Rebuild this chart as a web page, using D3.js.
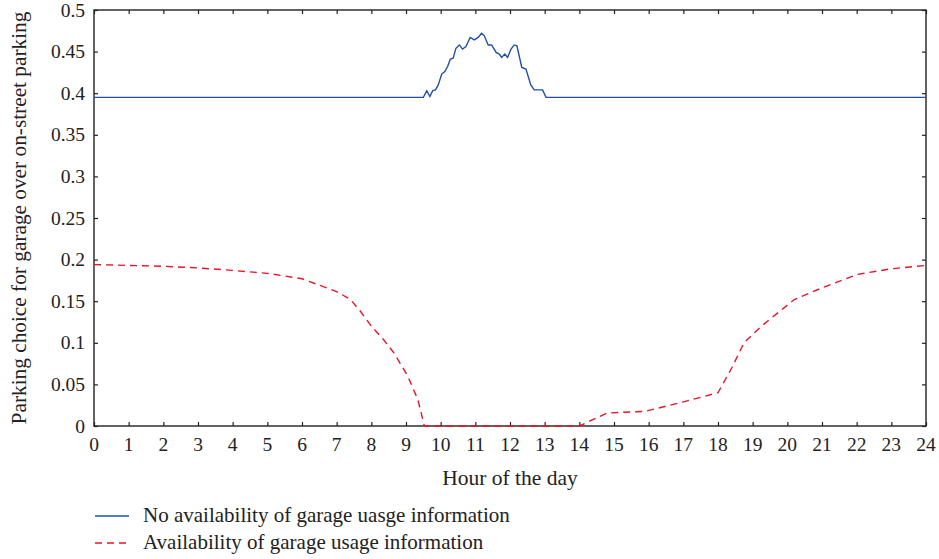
<!DOCTYPE html>
<html>
<head>
<meta charset="utf-8">
<script src="https://cdn.jsdelivr.net/npm/d3@7"></script>
<style>
  body { margin: 0; background: #fff; }
  text { font-family: "Liberation Serif", "DejaVu Serif", serif; fill: #222; }
</style>
</head>
<body>
<div id="chart"></div>
<script>
// hours of the day + the two series
const noInfoHours = [0, 9.5, 9.6, 9.69, 9.77, 9.85, 9.93, 10.03, 10.12, 10.2, 10.28, 10.36, 10.44, 10.54, 10.63, 10.73, 10.85, 10.97, 11.08, 11.18, 11.26, 11.37, 11.47, 11.6, 11.69, 11.76, 11.85, 11.93, 12.03, 12.12, 12.2, 12.34, 12.46, 12.6, 12.7, 12.94, 13.04, 24];
const noInfoValues = [0.395, 0.395, 0.403, 0.396, 0.403, 0.404, 0.41, 0.423, 0.426, 0.432, 0.441, 0.442, 0.454, 0.458, 0.453, 0.456, 0.467, 0.464, 0.467, 0.472, 0.469, 0.458, 0.458, 0.449, 0.447, 0.443, 0.447, 0.443, 0.453, 0.458, 0.457, 0.431, 0.429, 0.41, 0.404, 0.404, 0.395, 0.395];

const infoHours = [0, 1, 2, 3, 4, 5, 6, 7, 7.4, 7.7, 8, 8.35, 8.65, 9.05, 9.34, 9.53, 14, 14.8, 15.9, 17, 18, 18.4, 18.75, 19.25, 20.2, 21, 22, 23, 24];
const infoValues = [0.194, 0.193, 0.192, 0.19, 0.187, 0.1835, 0.177, 0.1615, 0.152, 0.137, 0.12, 0.104, 0.088, 0.06, 0.032, 0, 0, 0.0156, 0.0176, 0.029, 0.04, 0.07, 0.1, 0.12, 0.152, 0.166, 0.182, 0.189, 0.193];

const xTicks = d3.range(0, 25, 1);
const yTicks = [0, 0.05, 0.1, 0.15, 0.2, 0.25, 0.3, 0.35, 0.4, 0.45, 0.5];
const legendLabels = ['No availability of garage uasge information', 'Availability of garage usage information'];
const colors = ['#1f4fa8', '#e8142a'];

const W = 939, H = 559;
const margin = { left: 94, right: 13, top: 10, bottom: 133 };

const svg = d3.select('#chart').append('svg').attr('width', W).attr('height', H);

const x = d3.scaleLinear().domain([0, 24]).range([margin.left, W - margin.right]);
const y = d3.scaleLinear().domain([0, 0.5]).range([H - margin.bottom, margin.top]);

const fmtY = d => d === 0 ? '0' : String(+d.toFixed(2));

// axes - ticks point inward, labels only left & bottom
svg.append('g')
  .attr('transform', `translate(0,${y(0)})`)
  .call(d3.axisTop(x).tickValues(xTicks).tickSize(4).tickFormat(''))
  .call(g => g.select('.domain').remove());
svg.append('g')
  .attr('transform', `translate(0,${y(0.5)})`)
  .call(d3.axisBottom(x).tickValues(xTicks).tickSize(4).tickFormat(''))
  .call(g => g.select('.domain').remove());
svg.append('g')
  .attr('transform', `translate(${x(0)},0)`)
  .call(d3.axisRight(y).tickValues(yTicks).tickSize(4).tickFormat(''))
  .call(g => g.select('.domain').remove());
svg.append('g')
  .attr('transform', `translate(${x(24)},0)`)
  .call(d3.axisLeft(y).tickValues(yTicks).tickSize(4).tickFormat(''))
  .call(g => g.select('.domain').remove());

svg.selectAll('.tick line').attr('stroke', '#222').attr('stroke-width', 1.2);

// tick labels
svg.append('g').selectAll('text').data(xTicks).join('text')
  .attr('x', d => x(d)).attr('y', y(0) + 25)
  .attr('text-anchor', 'middle').attr('font-size', 19.5)
  .text(d => d);
svg.append('g').selectAll('text').data(yTicks).join('text')
  .attr('x', x(0) - 9).attr('y', d => y(d) + 6.5)
  .attr('text-anchor', 'end').attr('font-size', 19.5)
  .text(fmtY);

// frame
svg.append('rect')
  .attr('x', x(0)).attr('y', y(0.5))
  .attr('width', x(24) - x(0)).attr('height', y(0) - y(0.5))
  .attr('fill', 'none').attr('stroke', '#222').attr('stroke-width', 1.4);

// titles
svg.append('text')
  .attr('x', (x(0) + x(24)) / 2).attr('y', 485)
  .attr('text-anchor', 'middle').attr('font-size', 21.5)
  .text('Hour of the day');
svg.append('text')
  .attr('transform', `translate(26,${(y(0) + y(0.5)) / 2}) rotate(-90)`)
  .attr('text-anchor', 'middle').attr('font-size', 21.3)
  .text('Parking choice for garage over on-street parking');

const line = d3.line().x(d => x(d[0])).y(d => y(d[1]));

svg.append('path')
  .datum(d3.zip(noInfoHours, noInfoValues))
  .attr('d', line)
  .attr('fill', 'none').attr('stroke', colors[0]).attr('stroke-width', 1.4);

svg.append('path')
  .datum(d3.zip(infoHours, infoValues))
  .attr('d', line)
  .attr('fill', 'none').attr('stroke', colors[1]).attr('stroke-width', 1.4)
  .attr('stroke-dasharray', '7,5');

// legend
const legend = svg.append('g');
legendLabels.forEach((lab, i) => {
  const ly = 516 + i * 27;
  legend.append('line')
    .attr('x1', 95).attr('x2', 129).attr('y1', ly).attr('y2', ly)
    .attr('stroke', colors[i]).attr('stroke-width', 1.4)
    .attr('stroke-dasharray', i === 1 ? '7,5' : null);
  legend.append('text')
    .attr('x', 143).attr('y', ly + 6)
    .attr('font-size', 21)
    .text(lab);
});
</script>
</body>
</html>
